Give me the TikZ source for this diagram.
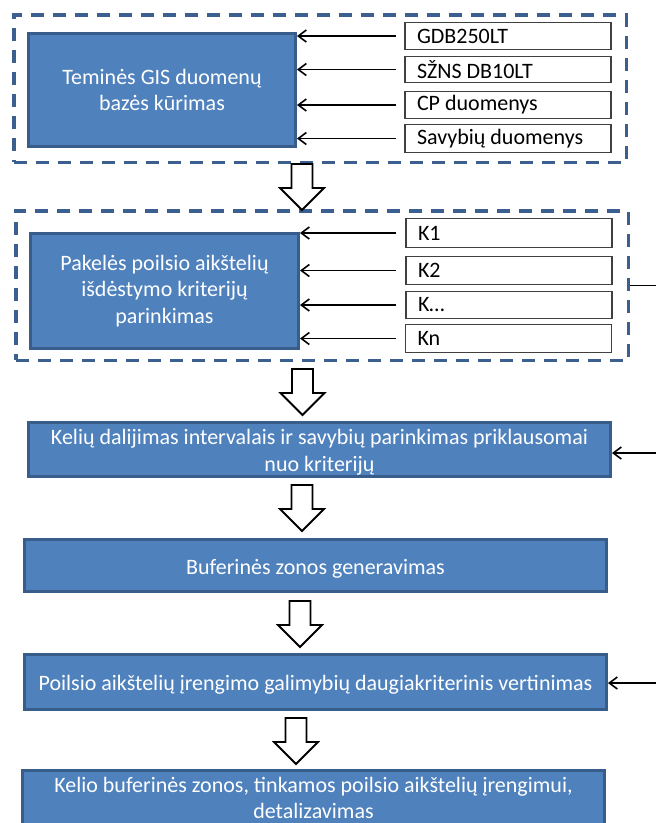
\documentclass[tikz,border=0pt]{standalone}
\usepackage{fontspec}
\setmainfont{Carlito}
\usetikzlibrary{arrows.meta}
\definecolor{boxblue}{HTML}{4F81BD}
\definecolor{boxedge}{HTML}{385D8A}
\definecolor{dashblue}{HTML}{3B5F8E}
\newcommand\mylift{\rule{0pt}{21pt}}
\begin{document}
\begin{tikzpicture}[x=1pt,y=-1pt,
  bluebox/.style={draw=boxedge, line width=3pt, fill=boxblue, text=white, align=center,
    font=\fontsize{22}{26.8}\selectfont, inner sep=0pt},
  srcbox/.style={draw=black!75, line width=1.4pt, fill=white, text=black, align=flush left,
    text width=182pt, inner xsep=12pt, inner ysep=0pt, font=\fontsize{22}{26.8}\selectfont},
  group/.style={draw=dashblue, line width=3.5pt, dash pattern=on 13pt off 9pt, inner sep=0pt},
  feed/.style={line width=1.6pt, -{Straight Barb[length=8pt,width=12pt]}},
  barrow/.pic={\draw[line width=1.8pt, fill=white] (-10.5,0) -- (10.5,0) -- (10.5,24) -- (22,24) -- (0,46) -- (-22,24) -- (-10.5,24) -- cycle;}
]
\clip (0,0) rectangle (656,823);

% dashed groups
\node[group, minimum width=612.5pt, minimum height=147.5pt] (d1) at (320,88.5) {};
\node[group, minimum width=612.5pt, minimum height=149.5pt] (d2) at (322,285.5) {};

% blue process boxes
\node[bluebox, minimum width=267pt, minimum height=113pt] (b1) at (162,90) {Teminės GIS duomenų\\bazės kūrimas};
\node[bluebox, minimum width=268pt, minimum height=115pt] (b2) at (164.5,291) {Pakelės poilsio aikštelių\\išdėstymo kriterijų\\parinkimas};
\node[bluebox, minimum width=582pt, minimum height=54pt] (b3) at (319.5,449.5) {\mylift Kelių dalijimas intervalais ir savybių parinkimas priklausomai\\nuo kriterijų};
\node[bluebox, minimum width=582pt, minimum height=52pt] (b4) at (315.5,565.5) {\mylift Buferinės zonos generavimas};
\node[bluebox, minimum width=582pt, minimum height=55pt] (b5) at (315.5,682) {\mylift Poilsio aikštelių įrengimo galimybių daugiakriterinis vertinimas};
\node[bluebox, minimum width=582pt, minimum height=55pt] (b6) at (313.5,798) {Kelio buferinės zonos, tinkamos poilsio aikštelių įrengimui,\\detalizavimas};

% source boxes
\node[srcbox, minimum height=26.6pt] (s1) at (508,36) {GDB250LT};
\node[srcbox, minimum height=25.6pt] (s2) at (508,69.5) {SŽNS DB10LT};
\node[srcbox, minimum height=26.6pt] (s3) at (508,105) {CP duomenys};
\node[srcbox, minimum height=27.6pt] (s4) at (508,138.5) {Savybių duomenys};
\node[srcbox, minimum height=28.6pt] (k1) at (509,233) {K1};
\node[srcbox, minimum height=27.6pt] (k2) at (509,270.5) {K2};
\node[srcbox, minimum height=26.6pt] (k3) at (509,305) {K…};
\node[srcbox, minimum height=27.6pt] (k4) at (508.5,338.5) {Kn};

% feed arrows
\foreach \s in {s1,s2,s3,s4}
  \draw[feed] ([xshift=-8pt]\s.west) -- (\s.west -| b1.east);
\foreach \s in {k1,k2,k3,k4}
  \draw[feed] ([xshift=-9pt]\s.west) -- (\s.west -| b2.east);

% right-hand feedback connector
\coordinate (e2) at (660,285.5);
\draw[line width=1.6pt] (d2.east) -- (e2);
\coordinate (e3) at (660,453);
\draw[feed] (e3) -- (e3 -| b3.east);
\coordinate (e5) at (660,683);
\draw[feed] (e5) -- (e5 -| b5.east);

% block arrows
\coordinate (a1) at (302,164);
\coordinate (a2) at (302.5,369);
\coordinate (a3) at (302,485);
\coordinate (a4) at (300,601);
\coordinate (a5) at (296,718);
\foreach \a in {a1,a2,a3,a4,a5}
  \pic at (\a) {barrow};
\end{tikzpicture}
\end{document}
